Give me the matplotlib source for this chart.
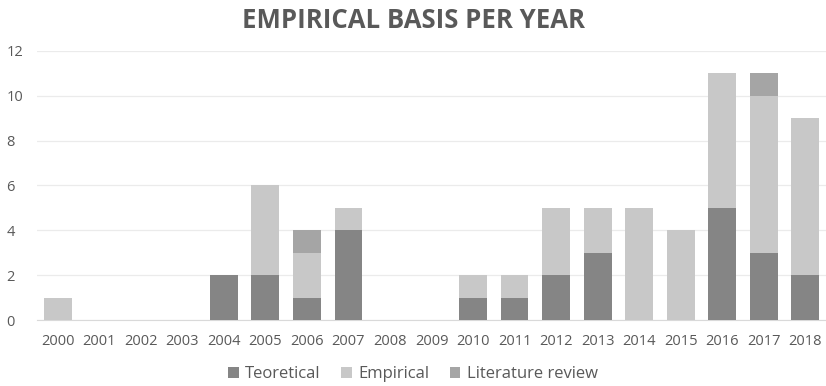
import matplotlib
matplotlib.use("Agg")
import matplotlib.pyplot as plt
import numpy as np

years = ["2000", "2001", "2002", "2003", "2004", "2005", "2006", "2007", "2008", "2009",
         "2010", "2011", "2012", "2013", "2014", "2015", "2016", "2017", "2018"]
teoretical = [0, 0, 0, 0, 2, 2, 1, 4, 0, 0, 1, 1, 2, 3, 0, 0, 5, 3, 2]
empirical = [1, 0, 0, 0, 0, 4, 2, 1, 0, 0, 1, 1, 3, 2, 5, 4, 6, 7, 7]
literature = [0, 0, 0, 0, 0, 0, 1, 0, 0, 0, 0, 0, 0, 0, 0, 0, 0, 1, 0]

plt.rcParams['font.family'] = ['Open Sans', 'DejaVu Sans']
txt = '#595959'

fig = plt.figure(figsize=(8.26, 3.86), dpi=100)
ax = fig.add_axes([37/826, 1 - 320/386, 1 - 37/826, (320 - 51)/386])

x = np.arange(len(years))
t = np.array(teoretical); e = np.array(empirical); l = np.array(literature)
w = 0.67
ax.bar(x, t, w, color='#858585', label='Teoretical', zorder=3)
ax.bar(x, e, w, bottom=t, color='#C8C8C8', label='Empirical', zorder=3)
ax.bar(x, l, w, bottom=t + e, color='#A5A5A5', label='Literature review', zorder=3)

ax.set_xlim(-0.5, len(years) - 0.5)
ax.set_ylim(0, 12)
ax.set_yticks(range(0, 13, 2))
ax.set_xticks(x)
ax.set_xticklabels(years)
ax.yaxis.grid(True, color='#EBEBEB', linewidth=0.9, zorder=0)
for s in ['top', 'right', 'left']:
    ax.spines[s].set_visible(False)
ax.spines['bottom'].set_color('#D9D9D9')
ax.tick_params(axis='both', length=0, labelsize=10.5, labelcolor=txt)
ax.tick_params(axis='x', pad=10)
ax.tick_params(axis='y', pad=22)
for lab in ax.get_yticklabels():
    lab.set_horizontalalignment('left')

fig.text(0.5, 1 - 20/386, 'EMPIRICAL BASIS PER YEAR', ha='center', va='center',
         fontsize=18.5, fontweight='bold', color=txt, fontstretch='condensed')

fig.legend(loc='center', bbox_to_anchor=(0.5, 1 - 374/386), ncol=3, frameon=False,
           fontsize=12, labelcolor=txt, handlelength=0.65, handleheight=0.65,
           handletextpad=0.4, columnspacing=1.2)

fig.savefig('out.png', dpi=100)
